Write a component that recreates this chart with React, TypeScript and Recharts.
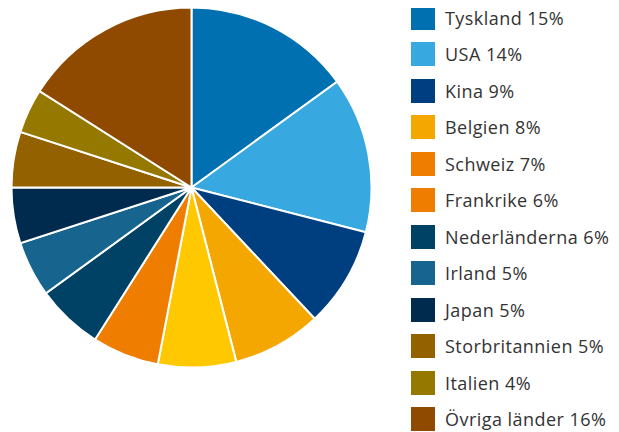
import { PieChart, Pie, Cell, Legend } from 'recharts';

const countries = [
  'Tyskland', 'USA', 'Kina', 'Belgien', 'Schweiz', 'Frankrike',
  'Nederländerna', 'Irland', 'Japan', 'Storbritannien', 'Italien', 'Övriga länder',
];
const shares = [15, 14, 9, 8, 7, 6, 6, 5, 5, 5, 4, 16];
const sliceColors = [
  '#0070b0', '#38a8e0', '#003f7f', '#f4a700', '#ffc800', '#ef7d00',
  '#004266', '#17648f', '#002a4e', '#936100', '#957800', '#8f4a00',
];
const legendColors = [
  '#0070b0', '#38a8e0', '#003f7f', '#f4a700', '#ef7d00', '#ef7d00',
  '#004266', '#17648f', '#002a4e', '#936100', '#957800', '#8f4a00',
];

const data = countries.map((name, i) => ({ name, value: shares[i] }));

const LegendList = () => (
  <div style={{ position: 'relative' }}>
    {data.map((d, i) => (
      <div
        key={d.name}
        style={{
          position: 'absolute',
          top: i * 36.45,
          left: 0,
          height: 24,
          display: 'flex',
          alignItems: 'center',
          whiteSpace: 'nowrap',
        }}
      >
        <div style={{ width: 24, height: 24, background: legendColors[i], marginRight: 10 }} />
        <span
          style={{
            fontSize: 18,
            letterSpacing: 0.45,
            color: '#333',
            fontFamily: '"Open Sans", sans-serif',
          }}
        >
          {d.name} {d.value}%
        </span>
      </div>
    ))}
  </div>
);

export default function App() {
  return (
    <PieChart width={611} height={424} margin={{ top: 0, right: 0, bottom: 0, left: 0 }}>
      <Pie
        data={data}
        dataKey="value"
        nameKey="name"
        cx={183.5}
        cy={179.5}
        outerRadius={180}
        startAngle={90}
        endAngle={-270}
        stroke="#fff"
        strokeWidth={2}
        isAnimationActive={false}
      >
        {data.map((d, i) => (
          <Cell key={d.name} fill={sliceColors[i]} />
        ))}
      </Pie>
      <Legend
        content={<LegendList />}
        wrapperStyle={{ position: 'absolute', left: 403, top: -2, width: 208, height: 424 }}
      />
    </PieChart>
  );
}
